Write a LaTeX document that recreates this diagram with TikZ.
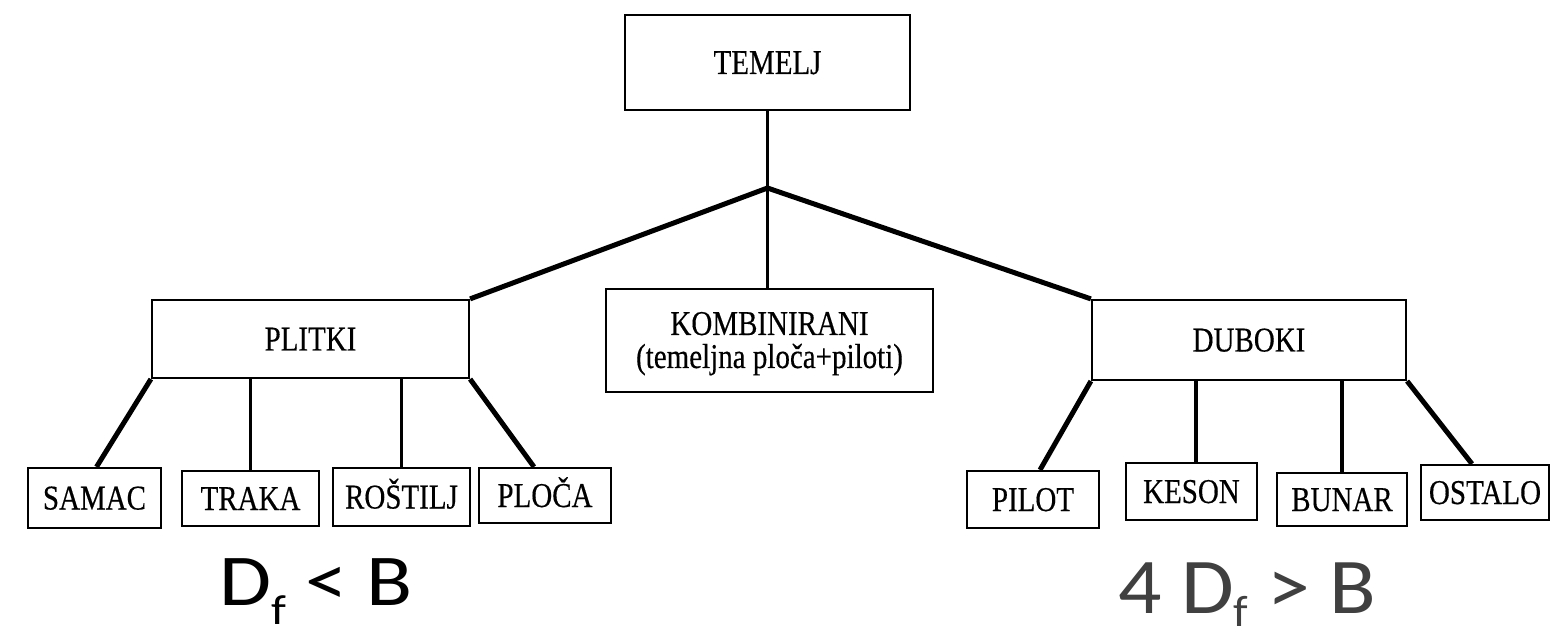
\documentclass[tikz,border=0pt]{standalone}
\usepackage{fontspec}
\setmainfont{Liberation Serif}
\newfontfamily\lblfont{Liberation Serif}[FakeBold=0.4]
\newfontfamily\calib{Carlito}
\definecolor{formgray}{HTML}{404040}
\newcommand\lbl[1]{\scalebox{1}[1.2]{#1}}
\begin{document}
\begin{tikzpicture}[x=1pt,y=-1pt,
  boxbase/.style={draw=black, line width=2.2pt, inner sep=0pt},
  box/.style={boxbase, font=\lblfont\fontsize{29}{34}\selectfont, text height=23pt, text depth=0pt},
  txt/.style={inner sep=0pt, font=\lblfont\fontsize{29}{34}\selectfont, anchor=base},
  thickline/.style={line width=5pt},
  thinline/.style={line width=3.4pt},
  formula/.style={inner sep=0pt, anchor=base west}]
\useasboundingbox (0,0) rectangle (1551,636);

% main level
\node[box, minimum width=285pt, minimum height=95pt] (temelj) at (767.5,62.5) {\lbl{TEMELJ}};
\node[box, minimum width=317pt, minimum height=78pt] (plitki) at (310.5,339) {\lbl{PLITKI}};
\node[boxbase, minimum width=327pt, minimum height=103pt] (komb) at (769.5,340.5) {};
\node[txt] (kombA) at (769.5,335) {\lbl{KOMBINIRANI}};
\node[txt] (kombB) at (769.5,368) {\lbl{(temeljna ploča+piloti)}};
\node[box, minimum width=314pt, minimum height=80pt] (duboki) at (1249,340) {\lbl{DUBOKI}};

% children of PLITKI
\node[box, minimum width=133pt, minimum height=60pt] (samac) at (94.5,498) {\lbl{SAMAC}};
\node[box, minimum width=137pt, minimum height=55pt] (traka) at (250.5,498.5) {\lbl{TRAKA}};
\node[box, minimum width=137pt, minimum height=58pt] (rostilj) at (401.5,497) {\lbl{ROŠTILJ}};
\node[box, minimum width=132pt, minimum height=55pt] (ploca) at (545,495.5) {\lbl{PLOČA}};

% children of DUBOKI
\node[box, minimum width=132pt, minimum height=57pt] (pilot) at (1033,499.5) {\lbl{PILOT}};
\node[box, minimum width=131pt, minimum height=57pt] (keson) at (1191.5,491.5) {\lbl{KESON}};
\node[box, minimum width=130pt, minimum height=53pt] (bunar) at (1342,499.5) {\lbl{BUNAR}};
\node[box, minimum width=128pt, minimum height=55pt] (ostalo) at (1485,492.5) {\lbl{OSTALO}};

% connectors
\coordinate (j) at (767.5,188);
\draw[thinline] (temelj.south) -- (j);
\draw[thickline] (j) -- (plitki.north east);
\draw[thinline] (j) -- (j |- komb.north);
\draw[thickline] (j) -- (duboki.north west);

\draw[thickline] (plitki.south west) -- ([xshift=2pt]samac.north);
\draw[thinline] (traka.north |- plitki.south) -- (traka.north);
\draw[thinline] (rostilj.north |- plitki.south) -- (rostilj.north);
\draw[thickline] (plitki.south east) -- ([xshift=-11pt]ploca.north);

\draw[thickline] (duboki.south west) -- ([xshift=7pt]pilot.north);
\draw[thinline] ([xshift=4.5pt]keson.north |- duboki.south) -- ([xshift=4.5pt]keson.north);
\draw[thinline] (bunar.north |- duboki.south) -- (bunar.north);
\draw[thickline] (duboki.south east) -- ([xshift=-13pt]ostalo.north);

% formulas
\node[formula, font=\calib\fontsize{73}{73}\selectfont] (f1) at (219,605)
  {\scalebox{1.16}[1]{D\raisebox{-19pt}{\fontsize{42}{42}\selectfont f} < B}};
\node[formula, text=formgray, font=\calib\fontsize{79}{79}\selectfont] (f2) at (1118,613)
  {\scalebox{1.085}[1]{4 D\raisebox{-13pt}{\fontsize{44}{44}\selectfont f} > B}};
\end{tikzpicture}
\end{document}
